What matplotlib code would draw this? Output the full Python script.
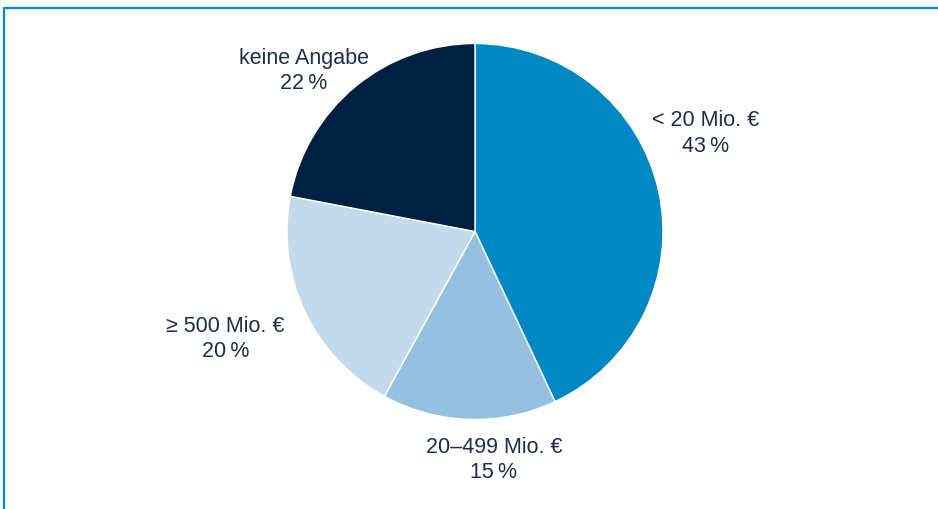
import matplotlib
matplotlib.use("Agg")
import matplotlib.pyplot as plt
from matplotlib.lines import Line2D

plt.rcParams['font.family'] = ['Liberation Sans', 'DejaVu Sans']

categories = ["< 20 Mio. €", "20–499 Mio. €", "≥ 500 Mio. €", "keine Angabe"]
shares = [43, 15, 20, 22]
colors = ["#0088c2", "#96c0df", "#c3daed", "#002042"]
text_color = "#1b2f4d"

# label block centres, in units of the pie radius
label_pos = [(1.226, 0.52), (0.101, -1.215), (-1.326, -0.572), (-0.91, 0.854)]

W, H = 938, 509
cx, cy, r = 475, 231.5, 188

fig = plt.figure(figsize=(W / 100, H / 100), dpi=100)
ax = fig.add_axes([0, 0, 1, 1])
ax.pie(shares, colors=colors, startangle=90, counterclock=False, radius=1,
       wedgeprops=dict(edgecolor="white", linewidth=1))
ax.set_xlim(-cx / r, (W - cx) / r)
ax.set_ylim(-(H - cy) / r, cy / r)
ax.set_aspect("equal")
ax.axis("off")

for name, val, (x, y) in zip(categories, shares, label_pos):
    ax.text(x, y, f"{name}\n{val}\u2009%", ha="center", va="center",
            fontsize=15.5, color=text_color, linespacing=1.28)

# frame on left and top
fx = 3.5 / W
fy = 1 - 8 / H
fig.add_artist(Line2D([fx, fx, 1], [0, fy, fy], transform=fig.transFigure,
                      color="#0088c2", linewidth=1.6))

fig.savefig("out.png", dpi=100)
